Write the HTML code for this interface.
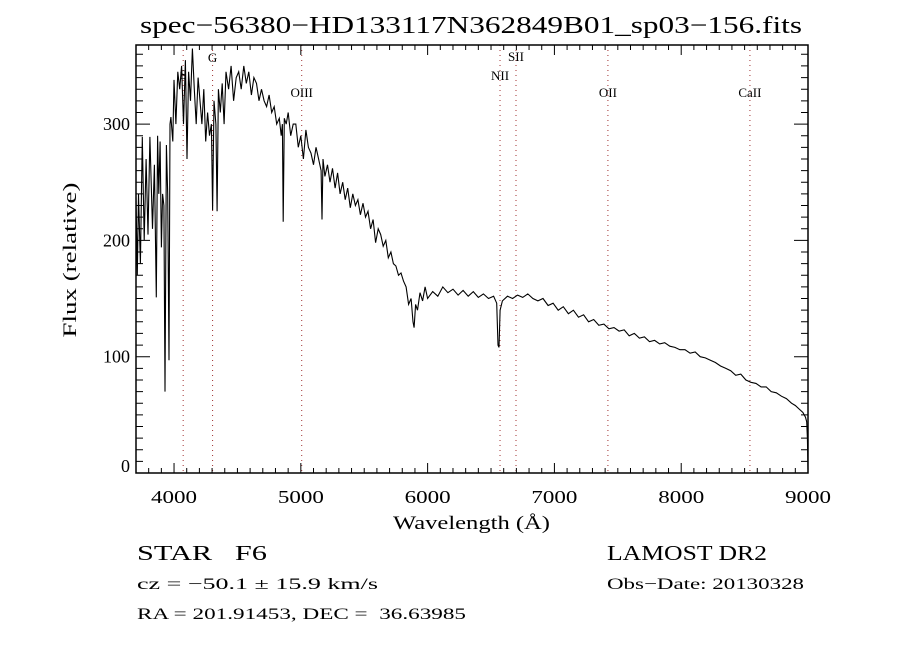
<!DOCTYPE html>
<html><head><meta charset="utf-8"><style>
html,body{margin:0;padding:0;background:#fff}
svg{display:block}
text{font-family:"Liberation Serif",serif;fill:#000}
</style></head><body>
<svg id="chart" width="900" height="650" viewBox="0 0 900 650" xmlns="http://www.w3.org/2000/svg">
<text x="140" y="33" font-size="24" textLength="662" lengthAdjust="spacingAndGlyphs">spec−56380−HD133117N362849B01_sp03−156.fits</text>
<g id="lines"></g>
<g id="series"></g>
<g id="axes"></g>
<text x="393" y="529" font-size="19" textLength="157" lengthAdjust="spacingAndGlyphs">Wavelength (Å)</text>
<text x="0" y="0" font-size="19" textLength="155" lengthAdjust="spacingAndGlyphs" text-anchor="middle" transform="translate(76,260) rotate(-90)">Flux (relative)</text>
<text x="137" y="560" font-size="21" textLength="130" lengthAdjust="spacingAndGlyphs" xml:space="preserve">STAR   F6</text>
<text x="137" y="589" font-size="16" textLength="241" lengthAdjust="spacingAndGlyphs">cz = −50.1 ± 15.9 km/s</text>
<text x="137" y="619" font-size="16" textLength="329" lengthAdjust="spacingAndGlyphs" xml:space="preserve">RA = 201.91453, DEC =  36.63985</text>
<text x="607" y="560" font-size="21" textLength="160" lengthAdjust="spacingAndGlyphs">LAMOST DR2</text>
<text x="607" y="589" font-size="16" textLength="197" lengthAdjust="spacingAndGlyphs">Obs−Date: 20130328</text>
</svg>
<script>
const wavelengths=[
3700,3710,3720,3735,3750,3765,3780,3795,3810,3830,
3845,3860,3870,3880,3890,3900,3910,3920,3929,3940,
3950,3960,3968,3975,3990,4000,4015,4030,4045,4060,
4075,4090,4102,4115,4130,4145,4160,4175,4190,4205,
4220,4235,4250,4265,4280,4295,4304,4315,4330,4340,
4350,4365,4380,4395,4410,4430,4450,4470,4490,4510,
4530,4550,4570,4590,4610,4630,4650,4670,4690,4710,
4730,4750,4770,4790,4810,4830,4845,4855,4861,4870,
4885,4900,4920,4940,4960,4980,5000,5020,5040,5060,
5080,5100,5120,5140,5160,5167,5175,5190,5210,5230,
5250,5270,5290,5310,5330,5350,5370,5390,5410,5430,
5450,5470,5490,5510,5530,5550,5570,5590,5610,5630,
5650,5670,5690,5710,5730,5750,5770,5790,5810,5830,
5850,5870,5885,5893,5905,5920,5940,5960,5980,6000,
6040,6080,6120,6160,6200,6240,6280,6320,6360,6400,
6440,6480,6520,6545,6555,6563,6572,6590,6630,6670,
6710,6750,6790,6830,6870,6910,6950,6990,7030,7070,
7110,7150,7190,7230,7270,7310,7350,7390,7430,7470,
7510,7550,7590,7630,7670,7710,7750,7790,7830,7870,
7910,7950,7990,8030,8070,8110,8150,8190,8230,8270,
8310,8350,8390,8430,8470,8510,8550,8590,8630,8670,
8710,8750,8790,8830,8870,8900,8930,8960,8980,8990,
8995,9000];
const flux=[
237,170,240,180,289,200,270,205,289,210,
265,151,290,240,285,194,240,230,70,282,
240,97,300,306,285,338,300,345,330,350,
300,355,270,345,320,365,330,300,340,320,
300,330,285,310,290,300,226,320,300,225,
330,310,335,300,345,330,350,320,340,345,
330,350,335,345,325,340,335,320,330,320,
315,325,310,315,300,305,290,300,216,305,
300,310,290,300,300,280,290,270,295,280,
275,265,280,270,260,218,270,255,265,250,
262,245,258,240,250,235,245,228,240,230,
235,222,232,220,225,210,218,198,210,205,
195,200,185,190,180,178,170,172,165,160,
145,150,130,125,145,140,155,148,160,150,
156,152,160,155,158,153,157,152,156,151,
154,150,152,146,110,108,140,148,152,150,
153,151,154,150,148,150,144,146,140,143,
137,140,134,136,130,132,127,128,124,125,
122,123,118,120,116,117,113,114,111,112,
109,108,106,106,103,104,100,99,97,95,
92,90,88,84,85,80,78,77,74,74,
70,69,66,64,60,58,55,52,48,44,
30,3];
const majorXTicks=[4000,5000,6000,7000,8000,9000];
const majorYTicks=[0,100,200,300];
const lineNames=["S","G","OIII","NII","SII","OII","CaII"];
const lineWaves=[4072,4304,5007,6571,6697,7422,8542];
const lineLabelY=[79,62,97,80,61,97,97];

const L=136,R=808,T=45,B=473,XMIN=3700,XMAX=9000,YMAX=368;
const xs=w=>L+(w-XMIN)*(R-L)/(XMAX-XMIN);
const ys=v=>B-v*(B-T)/YMAX;
const NS="http://www.w3.org/2000/svg";
function mk(tag,attrs,parent){const e=document.createElementNS(NS,tag);for(const k in attrs)e.setAttribute(k,attrs[k]);parent.appendChild(e);return e;}

const lg=document.getElementById('lines');
lineWaves.forEach((w,i)=>{
  const x=xs(w);
  const ln=mk('line',{x1:x,x2:x,y1:T,y2:B,stroke:'#a03030','stroke-width':1,'stroke-dasharray':'1,4'},lg);
  
  
  const t=mk('text',{x:x,y:lineLabelY[i],'font-size':13,'text-anchor':'middle'},lg);
  t.textContent=lineNames[i];
  
  
});

const sg=document.getElementById('series');
let d='';
const n=Math.min(wavelengths.length,flux.length);
for(let i=0;i<n;i++){d+=(i?'L':'M')+xs(wavelengths[i]).toFixed(1)+','+ys(flux[i]).toFixed(1);}
const p=mk('path',{d:d,fill:'none',stroke:'#000','stroke-width':1.1},sg);



const ax=document.getElementById('axes');
const box=mk('rect',{x:L,y:T,width:R-L,height:B-T,fill:'none',stroke:'#000','stroke-width':1.5},ax);


let td='';
for(let w=3700;w<=9000;w+=100){const x=xs(w);const len=(w%1000===0)?10:5;td+=`M${x},${B}v${-len}M${x},${T}v${len}`;}
for(let v=0;v<=YMAX;v+=10){const y=ys(v);const len=(v%100===0)?14:7;td+=`M${L},${y}h${len}M${R},${y}h${-len}`;}
const tk=mk('path',{d:td,stroke:'#000','stroke-width':1,fill:'none'},ax);


majorXTicks.forEach(w=>{
  const t=mk('text',{x:xs(w),y:503,'font-size':18,'text-anchor':'middle',textLength:46,lengthAdjust:'spacingAndGlyphs'},ax);
  t.textContent=w;
  
  
});
majorYTicks.forEach(v=>{
  const t=mk('text',{x:130,y:Math.min(ys(v)+6,472),'font-size':18,'text-anchor':'end'},ax);
  t.textContent=v;
  
  
});
</script>
</body></html>
